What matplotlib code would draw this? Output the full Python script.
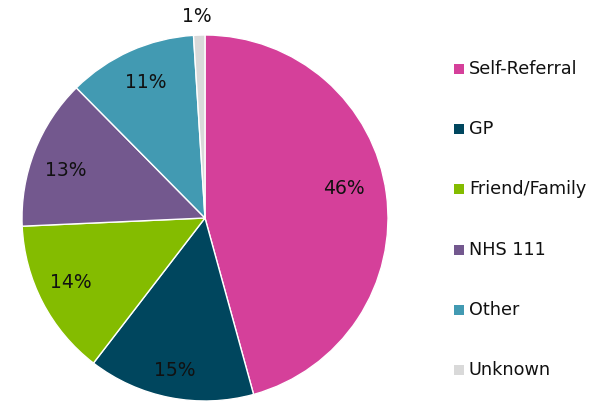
import numpy as np
import matplotlib
matplotlib.use("Agg")
import matplotlib.pyplot as plt
from matplotlib.patches import Rectangle

categories = ["Self-Referral", "GP", "Friend/Family", "NHS 111", "Other", "Unknown"]
values = [45.7, 14.7, 13.85, 13.3, 11.4, 1.0]
colors = ["#D5409A", "#00465E", "#84BC00", "#73588E", "#429AB2", "#D9D9D9"]

# label placement (layout only)
label_dist = [0.777, 0.851, 0.814, 0.805, 0.809, 1.10]
label_shift_deg = [4.4, 0.0, -1.7, 2.7, -0.5, 0.5]

W, H = 592, 403
fig = plt.figure(figsize=(W / 100, H / 100), dpi=100)
cx, cy, r = 205, 218, 183
ax = fig.add_axes([(cx - r) / W, (H - cy - r) / H, 2 * r / W, 2 * r / H])
wedges, _ = ax.pie(values, colors=colors, startangle=90, counterclock=False,
                   radius=1.0, wedgeprops=dict(edgecolor="white", linewidth=1.0))
ax.set_xlim(-1, 1)
ax.set_ylim(-1, 1)
ax.set_aspect("equal")
ax.axis("off")

total = sum(values)
for w, v, d, s in zip(wedges, values, label_dist, label_shift_deg):
    ang = np.deg2rad((w.theta1 + w.theta2) / 2 + s)
    ax.text(d * np.cos(ang), d * np.sin(ang), f"{round(100 * v / total)}%",
            ha="center", va="center", fontsize=13.5, color="#111111", clip_on=False)

y0, dy = 69, 60.2
for i, (name, c) in enumerate(zip(categories, colors)):
    y = y0 + dy * i
    fig.patches.append(Rectangle((454 / W, 1 - (y + 5) / H), 10 / W, 10 / H,
                                 transform=fig.transFigure, facecolor=c, edgecolor="none"))
    fig.text(469 / W, 1 - y / H, name, ha="left", va="center", fontsize=12.7, color="#111111")

fig.savefig("out.png", dpi=100)
